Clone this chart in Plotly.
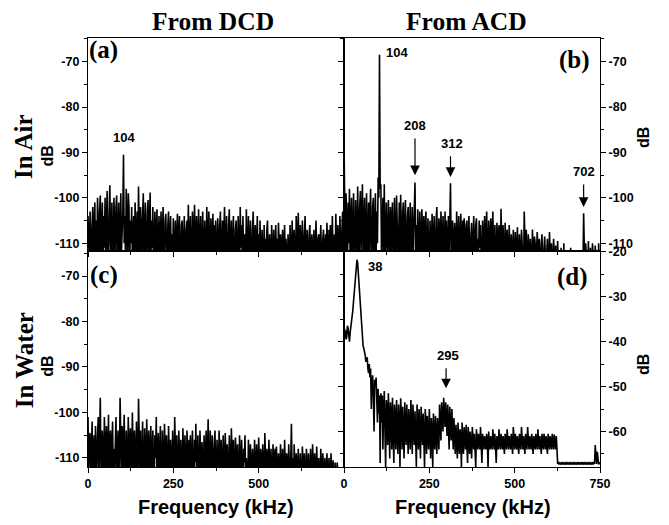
import plotly.graph_objects as go
from plotly.subplots import make_subplots

# frequency grid (kHz), 2 kHz spacing, 0..750
freq = list(range(0, 752, 2))

# (a) DCD in air (dB)
dcd_air = [
 -104,-110,-115,-103,-108,-117,-106,-102,-114,-109,-101,-116,-105,-112,-100,-107,-118,-103,-99.5,-113,-108,-101,-115,-104,-111,
 -100,-116,-106,-98.5,-112,-117,-103,-97.2,-110,-114,-101,-105,-118,-100,-109,-113,-102,-99.5,-115,-107,-101,-117,-104,-99,-112,
 -108,-103,-90.5,-110,-104,-115,-98,-107,-113,-99,-102,-117,-105,-110,-102,-114,-108,-104,-116,-101,-109,-113,-103,-115,-97.5,
 -106,-116,-102,-110,-113,-104,-99,-117,-107,-101,-112,-115,-103,-100.5,-114,-108,-98.8,-116,-105,-111,-102,-118,-107,-103,-113,
 -109,-102.5,-116,-106,-104,-114,-110,-103,-117,-107,-102,-113,-116,-105,-103.5,-111,-118,-106,-103,-114,-109,-104,-116,-108,-113,
 -104.5,-117,-107,-105,-113,-110,-103.5,-116,-108,-104,-114,-118,-106,-105,-112,-115,-104,-109,-116,-107,-105,-113,-101.5,-117,-108,
 -104,-112,-116,-103,-108,-114,-101.5,-110,-117,-104,-107,-113,-102.5,-115,-109,-104,-118,-106,-103,-112,-114,-105,-108,-116,-102,
 -110,-115,-103,-107,-117,-104.5,-112,-109,-103.5,-116,-106,-113,-105,-111,-118,-104.5,-108,-114,-106,-103,-117,-110,-105,-113,-107,
 -102,-115,-109,-104,-112,-117,-106,-102.5,-114,-108,-105,-116,-110,-104,-113,-118,-107,-105,-112,-115,-104,-109,-117,-102,-111,
 -106,-114,-104,-116,-109,-108,-113,-102.5,-117,-106,-104,-115,-110,-105,-112,-118,-107,-103,-114,-109,-106,-116,-111,-104,-113,
 -108,-117,-105,-112,-115,-107,-110,-118,-106,-113,-109,-116,-107,-105,-114,-117,-108,-110,-115,-106,-112,-118,-107,-111,-116,
 -106,-113,-109,-117,-105.5,-112,-115,-108,-110,-118,-107,-114,-111,-106,-116,-109,-113,-117,-108,-111,-115,-106,-112,-118,-105,
 -110,-116,-107,-112,-117,-104,-109,-114,-103.3,-113,-118,-106,-110,-115,-105,-111,-117,-108,-104,-113,-116,-107,-111,-118,-108,
 -106,-114,-112,-108,-117,-110,-107,-115,-113,-105,-111,-118,-109,-108,-116,-112,-106,-114,-117,-109,-107,-115,-112,-108,-116,
 -105.5,-111,-117,-107,-113,-106,-115,-110,-104,-116,-112,-108,-117,-103.5,-110,-114,-106,-109,-116,-104,-112,-117,-107,-103,-113,
 -108]

# (b) ACD in air (dB)
acd_air = [
 -88,-104,-112,-99,-108,-116,-101,-110,-98,-114,-106,-100,-117,-103,-99,-111,-115,-100.5,-107,-113,-97.5,-109,-116,-102,-98.5,
 -112,-105,-97,-115,-108,-100,-117,-103,-99,-113,-110,-101,-116,-104,-98,-111,-114,-102,-100,-117,-106,-99,-113,-103,-110,
 -95.5,-100,-68.5,-98,-97,-114,-106,-100,-112,-97,-116,-104,-101,-110,-115,-100.5,-107,-113,-102,-117,-105,-101,-112,-114,-100,
 -108,-116,-99.5,-104,-113,-110,-101,-117,-99.3,-108,-114,-103,-101,-116,-109,-100.5,-112,-115,-104,-102,-117,-107,-101,-113,-110,
 -102,-116,-108,-104,-96.6,-112,-106,-117,-102.5,-110,-114,-103,-108,-116,-102.5,-111,-113,-104,-118,-107,-103,-115,-110,-104.5,-113,
 -117,-105,-108,-114,-103.5,-111,-116,-104,-109,-118,-105,-102,-113,-115,-104.5,-107,-117,-103,-110,-114,-104,-108,-116,-103,-112,
 -105,-115,-110,-104,-113,-106,-96.8,-112,-117,-105,-109,-114,-105.5,-108,-118,-103,-111,-115,-104,-107,-116,-103.5,-110,-113,-105,
 -117,-104.5,-109,-114,-106,-105,-116,-111,-104,-113,-118,-108,-105.5,-112,-115,-104,-110,-117,-106,-104.5,-113,-109,-116,-105,-111,
 -106,-114,-118,-105,-109,-113,-104,-116,-108,-103,-112,-117,-105,-110,-114,-104.5,-107,-116,-103,-111,-115,-106,-109,-118,-105.5,
 -112,-114,-106,-108,-117,-102.4,-111,-115,-106,-109,-118,-105.5,-110,-114,-107,-113,-116,-106,-111,-118,-108,-112,-115,-107,-110,
 -117,-107.5,-112,-115,-106.5,-110,-118,-108,-113,-116,-107,-111,-114,-117,-103,-112,-115,-107,-110,-118,-108,-113,-116,-109,-111,
 -118,-107,-112,-115,-108.5,-110,-117,-113,-107.5,-111,-116,-109,-114,-118,-110,-108,-115,-117,-111,-108.5,-113,-118,-112,-109,-116,
 -114,-107.5,-112,-117,-110,-115,-118,-109,-113,-116,-110.5,-118,-114,-109.5,-117,-112,-115,-118,-111,-116,-113,-118,-110,-117,-115,
 -112,-118,-116,-111.5,-117,-114,-118,-111,-116,-113,-118,-112,-117,-115,-118,-111.5,-116,-118,-114,-117,-112,-118,-115,-117,-118,
 -116,-103.4,-117,-118,-110,-116,-114,-118,-109.5,-117,-115,-111,-118,-116,-110,-117,-114,-118,-110.5,-116,-117,-112,-118,-110,-115,
 -118]

# (c) DCD in water (dB)
dcd_water = [
 -101,-112,-106,-104.5,-116,-109,-102,-114,-107,-105,-117,-103,-110,-113,-105,-101,-115,-108,-96.8,-112,-117,-104,-109,-114,-101,
 -107,-116,-103,-110,-113,-100.5,-117,-106,-104,-114,-110,-102,-116,-108,-113,-104,-101,-115,-109,-104,-117,-112,-96.8,-110,-114,
 -103,-116,-108,-100.5,-112,-117,-104,-109,-114,-101,-107,-116,-103.5,-111,-113,-100,-108,-117,-104,-110,-115,-102,-112,-116,-97,
 -109,-114,-104,-116,-111,-102,-113,-118,-103.5,-108,-115,-101.5,-110,-116,-104,-112,-114,-103,-117,-109,-104,-113,-116,-105,-110,
 -101,-115,-109,-104.5,-117,-110,-103,-113,-116,-104,-110,-118,-102.5,-108,-114,-105,-112,-117,-103,-110,-115,-106,-109,-116,-104,
 -112,-117,-101,-108,-115,-105,-111,-118,-104,-109,-114,-106,-113,-117,-103.5,-110,-116,-105,-112,-118,-104,-108,-115,-106,-113,
 -105,-117,-110,-104,-114,-118,-106,-111,-102.5,-116,-109,-105,-113,-118,-104,-110,-115,-106.5,-112,-117,-105,-109,-114,-104,-116,
 -110,-101.5,-113,-117,-104,-109,-115,-105,-111,-118,-107,-104,-114,-116,-106,-110,-117,-104,-112,-115,-106,-109,-118,-105,-113,
 -116,-104.5,-110,-115,-107,-112,-118,-105,-109,-116,-103.5,-111,-114,-106,-113,-117,-105.5,-110,-115,-107,-112,-118,-105,-109,-116,
 -106,-113,-117,-108,-111,-105,-116,-110,-114,-118,-106,-109,-115,-107,-112,-117,-108,-111,-116,-106,-113,-118,-107,-110,-115,
 -105.5,-112,-117,-108,-110,-116,-107,-113,-118,-104.5,-111,-115,-108,-110,-117,-106,-112,-116,-108,-111,-118,-107,-113,-115,-108,
 -116,-107.5,-112,-118,-109,-111,-115,-107,-113,-117,-108,-110,-116,-106,-112,-118,-109,-111,-115,-107,-113,-117,-110,-102.5,-114,
 -110,-117,-107,-112,-116,-109,-111,-118,-108,-113,-116,-109,-112,-118,-107.5,-111,-115,-109,-113,-117,-108,-112,-116,-109,-114,
 -118,-108,-111,-116,-107,-113,-117,-109,-112,-115,-107.5,-111,-118,-110,-113,-116,-108,-112,-117,-109,-114,-118,-110,-112,-116,
 -109,-113,-118,-110,-112,-116,-109,-114,-117,-110.5,-113,-118,-111,-114,-117,-111,-113,-118,-116,-118,-117,-118,-118,-118,-118,
 -118]

# (d) ACD in water (dB)
acd_water = [
 -36,-38,-37.5,-39.5,-39,-36.5,-37,-38.5,-40,-38,-37,-36,-35,-33,-31,-29,-27,-25,-23,-21.8,-22.5,-25,-27.5,-30,-32,
 -34.5,-37,-39,-41,-41.5,-42,-43,-44.5,-44,-43.5,-46,-47,-45,-48,-46,-55,-49,-47.5,-52,-60,-48.5,-50,-48,-53,-58,
 -50.5,-56,-52,-67,-51.5,-58,-52,-64,-55,-51,-60,-68,-53,-55,-63,-51.5,-58,-66,-53.5,-56,-64,-52.5,-59,-67,-54,
 -57,-64,-53,-60,-65,-54,-58,-68,-52.6,-56,-64,-54.5,-59,-66,-53.5,-57,-63,-54,-60,-65,-55,-58,-64,-53,-61,
 -65,-54,-57,-63,-55.5,-60,-68,-54,-58,-64,-55,-61,-66,-54.5,-59,-63,-56,-60,-68,-55,-58,-65,-56.5,-61,-64,
 -55,-59,-66,-57,-60,-68,-56,-61,-64,-56.5,-60,-65,-57,-61,-64,-54,-58,-62,-53.5,-57,-60,-52.5,-56,-59,-53.5,
 -57,-61,-54,-58,-64,-54.5,-57,-62,-55,-59,-64,-57,-60,-65,-58.5,-61,-66,-58,-62,-65,-59.5,-61,-68,-58,-63,
 -65,-59,-62,-64,-58.5,-63,-67,-59,-62,-65,-60,-63,-66,-59,-62,-64,-60.5,-63,-68,-59.5,-62,-64,-60.5,-63,-64,
 -59,-62,-67,-60.5,-64,-64,-61,-63,-64,-60.5,-62,-68,-60,-63,-64,-61,-64,-64,-59.5,-62,-64,-60.5,-63,-67,-61,
 -64,-64,-59.5,-62,-64,-60.5,-63,-64,-61,-64,-65,-60.5,-62,-64,-59.5,-63,-64,-61,-64,-64,-60.5,-62,-65,-59,-63,
 -64,-60.5,-64,-64,-61,-63,-65,-60.5,-64,-64,-59,-62,-64,-61,-64,-65,-60.5,-63,-64,-59,-62,-64,-61,-64,-64,
 -60.5,-63,-65,-61,-64,-64,-60.5,-62,-64,-59.5,-63,-64,-61,-64,-65,-60.5,-62,-64,-60.5,-64,-64,-61,-63,-65,-60.5,
 -64,-64,-61,-62,-64,-60.5,-63,-64,-60.7,-64,-64,-61,-67,-67.2,-67,-67.3,-67,-67.2,-67,-67.3,-67,-67.2,-67,-67.3,-67,
 -67.2,-67,-67.3,-67,-67.2,-67,-67.3,-67,-67.2,-67,-67.3,-67,-67.2,-67,-67.3,-67,-67.2,-67,-67.3,-67,-67.2,-67,-67.3,-67,-67.2,
 -67,-67.2,-67,-67.3,-67,-67.2,-67,-67.3,-67,-67.2,-67,-67.3,-67,-67.2,-67,-67.3,-67,-67.2,-63,-67,-67.2,-64.5,-67,-67.3,-67,
 -67.2]

x_ticks = [0, 250, 500, 750]
y_ticks_air = [-70, -80, -90, -100, -110]
y_ticks_water_acd = [-20, -30, -40, -50, -60]

SERIF = "Liberation Serif, Times New Roman, serif"
SANS = "Liberation Sans, Arial, sans-serif"

fig = make_subplots(rows=2, cols=2, horizontal_spacing=0, vertical_spacing=0)
series = [(dcd_air, 1, 1), (acd_air, 1, 2), (dcd_water, 2, 1), (acd_water, 2, 2)]
for ys, r, c in series:
    fig.add_trace(go.Scatter(x=freq, y=ys, mode="lines",
                             line=dict(color="black", width=1.6), showlegend=False,
                             hoverinfo="skip"), row=r, col=c)

tickfont = dict(family=SANS, size=12.5, color="black", weight="bold")
common_x = dict(range=[0, 750], showline=True, linecolor="black", linewidth=1.2,
                mirror=True, ticks="outside", ticklen=5, tickwidth=1, tickcolor="black",
                minor=dict(dtick=125, ticklen=3, ticks="outside", tickcolor="black"),
                showgrid=False, zeroline=False, tickfont=tickfont)
common_y = dict(showline=True, linecolor="black", linewidth=1.2,
                ticks="outside", ticklen=5, tickwidth=1, tickcolor="black",
                minor=dict(dtick=5, ticklen=3, ticks="outside", tickcolor="black"),
                showgrid=False, zeroline=False, tickfont=tickfont)

def lbl(vals):
    return [str(v) for v in vals]

ysplit = 0.5035
fig.update_layout(
    xaxis=dict(common_x, domain=[0, 0.5], tickvals=x_ticks, showticklabels=False),
    xaxis2=dict(common_x, domain=[0.5, 1], tickvals=x_ticks, showticklabels=False),
    xaxis3=dict(common_x, domain=[0, 0.5], tickvals=x_ticks,
                ticktext=[str(v) if v < 750 else "" for v in x_ticks]),
    xaxis4=dict(common_x, domain=[0.5, 1], tickvals=x_ticks, ticktext=lbl(x_ticks)),
    yaxis=dict(common_y, domain=[ysplit, 1], range=[-111.7, -64.8], tickvals=y_ticks_air,
               ticktext=lbl(y_ticks_air), mirror=True),
    yaxis2=dict(common_y, domain=[ysplit, 1], range=[-111.7, -64.8], tickvals=y_ticks_air,
                ticktext=lbl(y_ticks_air), side="right", mirror="ticks"),
    yaxis3=dict(common_y, domain=[0, ysplit], range=[-112, -64.5], tickvals=y_ticks_air,
                ticktext=lbl(y_ticks_air), mirror=True),
    yaxis4=dict(common_y, domain=[0, ysplit], range=[-67.9, -19.85], tickvals=y_ticks_water_acd,
                ticktext=lbl(y_ticks_water_acd), side="right", mirror="ticks"),
    width=669, height=525,
    margin=dict(l=88, r=69, t=38, b=58),
    paper_bgcolor="white", plot_bgcolor="white",
)

ann = []
def ptext(txt, x, y, font, angle=0, xref="paper", yref="paper"):
    ann.append(dict(text=txt, x=x, y=y, xref=xref, yref=yref, showarrow=False,
                    font=font, textangle=angle, xanchor="center", yanchor="middle"))

serif_big = dict(family=SERIF, size=25.5, color="black", weight="bold")
serif_row = dict(family=SERIF, size=25, color="black", weight="bold")
serif_lbl = dict(family=SERIF, size=25, color="black", weight="bold")
sans_db = dict(family=SANS, size=16, color="black", weight="bold")
sans_ax = dict(family=SANS, size=20, color="black", weight="bold")
sans_pk = dict(family=SANS, size=13, color="black", weight="bold")

ptext("From DCD", 0.244, 1.0396, serif_big)
ptext("From ACD", 0.740, 1.0396, serif_big)
ptext("In Air", -0.125, 0.746, serif_row, -90)
ptext("In Water", -0.125, 0.249, serif_row, -90)
ptext("dB", -0.079, 0.725, sans_db, -90)
ptext("dB", -0.079, 0.235, sans_db, -90)
ptext("dB", 1.086, 0.767, sans_db, -90)
ptext("dB", 1.086, 0.238, sans_db, -90)
ptext("Frequency (kHz)", 0.250, -0.093, sans_ax)
ptext("Frequency (kHz)", 0.752, -0.093, sans_ax)
ptext("(a)", 0.031, 0.972, serif_lbl)
ptext("(b)", 0.951, 0.949, serif_lbl)
ptext("(c)", 0.031, 0.4476, serif_lbl)
ptext("(d)", 0.947, 0.443, serif_lbl)

# peak labels
ptext("104", 104, -86.7, sans_pk, xref="x", yref="y")
ptext("104", 156, -68.1, sans_pk, xref="x2", yref="y2")
ptext("208", 209, -84.0, sans_pk, xref="x2", yref="y2")
ptext("312", 315, -88.1, sans_pk, xref="x2", yref="y2")
ptext("702", 702, -94.3, sans_pk, xref="x2", yref="y2")
ptext("38", 90, -23.2, sans_pk, xref="x4", yref="y4")
ptext("295", 305, -43.0, sans_pk, xref="x4", yref="y4")

def arrow(x, y0, y1, xr, yr):
    ann.append(dict(text="", x=x, y=y1, ax=x, ay=y0, xref=xr, yref=yr, axref=xr, ayref=yr,
                    showarrow=True, arrowhead=2, arrowsize=1.6, arrowwidth=1.2, arrowcolor="black"))

arrow(208, -86.6, -95.0, "x2", "y2")
arrow(312, -90.5, -95.4, "x2", "y2")
arrow(702, -96.7, -102.0, "x2", "y2")
arrow(299, -45.6, -50.4, "x4", "y4")

fig.update_layout(annotations=ann)
fig.write_html("out.html", config={"displayModeBar": False},
               post_script="document.body.style.margin='0px';")
